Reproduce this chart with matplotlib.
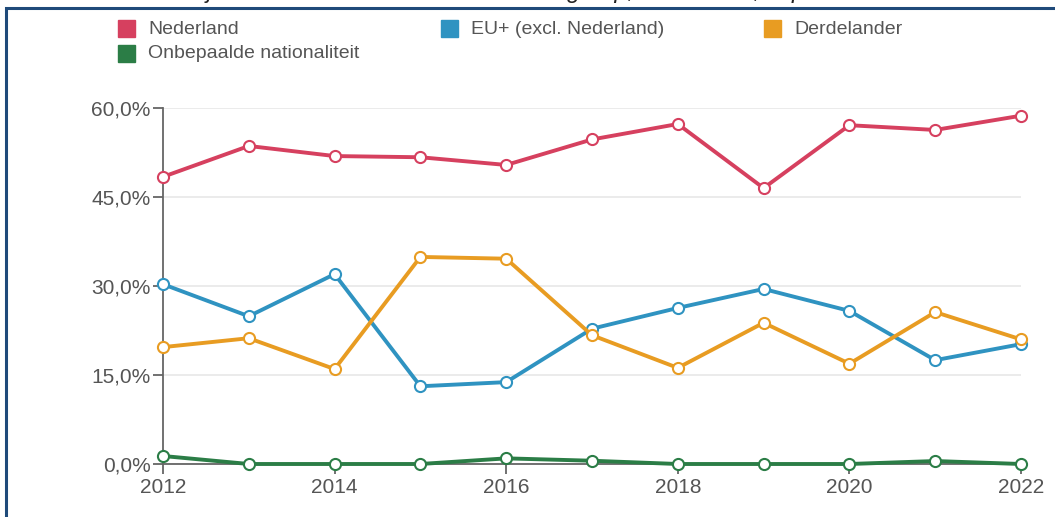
import matplotlib.pyplot as plt
from matplotlib.patches import Rectangle
from matplotlib.ticker import FuncFormatter

plt.rcParams['font.family'] = ['Liberation Sans', 'DejaVu Sans']

jaren = list(range(2012, 2023))
nederland = [48.4, 53.6, 51.9, 51.7, 50.4, 54.7, 57.3, 46.5, 57.1, 56.3, 58.7]
eu_plus = [30.3, 24.9, 32.0, 13.1, 13.8, 22.8, 26.3, 29.5, 25.8, 17.5, 20.2]
derdelander = [19.7, 21.2, 16.0, 34.9, 34.6, 21.7, 16.2, 23.8, 16.9, 25.6, 21.0]
onbepaald = [1.35, 0.0, 0.0, 0.0, 0.95, 0.55, 0.0, 0.0, 0.0, 0.5, 0.0]

reeksen = [
    ("Nederland", nederland, "#d6405f"),
    ("EU+ (excl. Nederland)", eu_plus, "#2f93c1"),
    ("Derdelander", derdelander, "#e89c22"),
    ("Onbepaalde nationaliteit", onbepaald, "#2b7d46"),
]

fig = plt.figure(figsize=(10.55, 5.17), dpi=100)
ax = fig.add_axes([163 / 1055, 53 / 517, 858 / 1055, 356 / 517])

for naam, waarden, kleur in reeksen:
    ax.plot(jaren, waarden, color=kleur, lw=2.8, marker="o", ms=8,
            mfc="white", mec=kleur, mew=1.5, clip_on=False, zorder=3,
            label=naam)

ax.set_xlim(2012, 2022)
ax.set_ylim(0, 60)
ax.set_xticks([2012, 2014, 2016, 2018, 2020, 2022])
ax.set_yticks([0, 15, 30, 45, 60])
ax.yaxis.set_major_formatter(FuncFormatter(lambda v, p: f"{v:.1f}%".replace(".", ",")))
ax.grid(axis="y", color="#e8e8e8", lw=1.2, zorder=0)
for s in ["top", "right"]:
    ax.spines[s].set_visible(False)
for s in ["left", "bottom"]:
    ax.spines[s].set_color("#666666")
    ax.spines[s].set_linewidth(1.3)
ax.tick_params(colors="#666666", labelcolor="#555555", labelsize=15,
               length=7, width=1.3)
ax.tick_params(axis="x", pad=3)
ax.tick_params(axis="y", pad=2)

# legenda
posities = [(118, 29), (441, 29), (764, 29), (118, 54)]
for (naam, waarden, kleur), (px, py) in zip(reeksen, posities):
    fig.patches.append(Rectangle((px / 1055, 1 - (py + 8) / 517), 17 / 1055, 17 / 517,
                                 transform=fig.transFigure, color=kleur))
    fig.text((px + 30) / 1055, 1 - py / 517, naam, fontsize=14,
             color="#555555", va="center")

# kader en (afgesneden) titel
fig.patches.append(Rectangle((6 / 1055, -0.05), 1.1, 1 - 8 / 517 + 0.05,
                             transform=fig.transFigure, fill=False,
                             ec="#1f4a7a", lw=2.2))
fig.text(0.5, 1.004, "Aandeel eerstejaars instromers naar nationaliteitsgroep, 2012-2022, in procenten van totaal",
         ha="center", va="baseline", fontsize=17, style="italic", color="#222222")

fig.savefig("out.png", dpi=100)
